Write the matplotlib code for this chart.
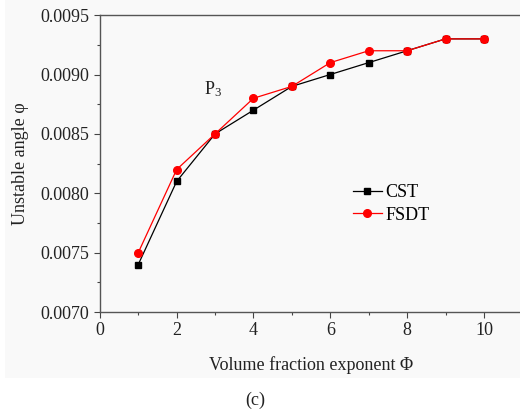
import matplotlib
matplotlib.use("Agg")
import matplotlib.pyplot as plt
from matplotlib.patches import Rectangle
from matplotlib.ticker import MultipleLocator

plt.rcParams['font.family'] = ['Liberation Serif', 'DejaVu Serif']
plt.rcParams['mathtext.fontset'] = 'custom'
plt.rcParams['mathtext.rm'] = 'Liberation Serif'
plt.rcParams['mathtext.it'] = 'Liberation Serif'

# data
phi = [1, 2, 3, 4, 5, 6, 7, 8, 9, 10]
cst = [0.0074, 0.0081, 0.0085, 0.0087, 0.0089, 0.0090, 0.0091, 0.0092, 0.0093, 0.0093]
fsdt = [0.0075, 0.0082, 0.0085, 0.0088, 0.0089, 0.0091, 0.0092, 0.0092, 0.0093, 0.0093]

fig = plt.figure(figsize=(5.2, 4.2), dpi=100)
# faint grey panel behind the plot, as in the scan
fig.patches.append(Rectangle((0.01, 0.10), 0.99, 0.90, transform=fig.transFigure,
                             facecolor='#f9f9f9', edgecolor='none', zorder=-5))

ax = fig.add_axes([0.192, 0.257, 0.8125, 0.707])
ax.patch.set_alpha(0)

ax.plot(phi, cst, '-', color='black', lw=0.9, marker='s', ms=5, label='CST')
ax.plot(phi, fsdt, '-', color='red', lw=0.9, marker='o', ms=5.5, label='FSDT')

ax.set_xlim(0, 11)
ax.set_ylim(0.0070, 0.0095)
ax.xaxis.set_major_locator(MultipleLocator(2))
ax.xaxis.set_minor_locator(MultipleLocator(1))
ax.yaxis.set_major_locator(MultipleLocator(0.0005))
ax.yaxis.set_minor_locator(MultipleLocator(0.00025))
ax.yaxis.set_major_formatter(matplotlib.ticker.FormatStrFormatter('%.4f'))
ax.set_xticks([0, 2, 4, 6, 8, 10])
ax.tick_params(which='major', direction='out', length=4, width=0.8, labelsize=13,
               colors='#444444', labelcolor='#222222')
ax.tick_params(which='minor', direction='out', length=2.5, width=0.8, colors='#444444')
ax.spines['right'].set_visible(False)
for s in ['top', 'left', 'bottom']:
    ax.spines[s].set_color('#555555')
    ax.spines[s].set_linewidth(1.0)

ax.set_xlabel('Volume fraction exponent \u03a6', fontsize=13, labelpad=12, color='#222222')
ax.set_ylabel('Unstable angle \u03c6', fontsize=13, labelpad=8, color='#222222')

ax.text(2.7, 0.00883, 'P$_3$', fontsize=13, color='#222222')

ax.legend(loc='upper left', bbox_to_anchor=(0.56, 0.485), frameon=False, fontsize=13,
          handlelength=1.6, handletextpad=0.2, labelspacing=0.3)

fig.text(0.49, 0.035, '(c)', fontsize=13, ha='center', color='#222222')

fig.savefig('out.png', dpi=100)
